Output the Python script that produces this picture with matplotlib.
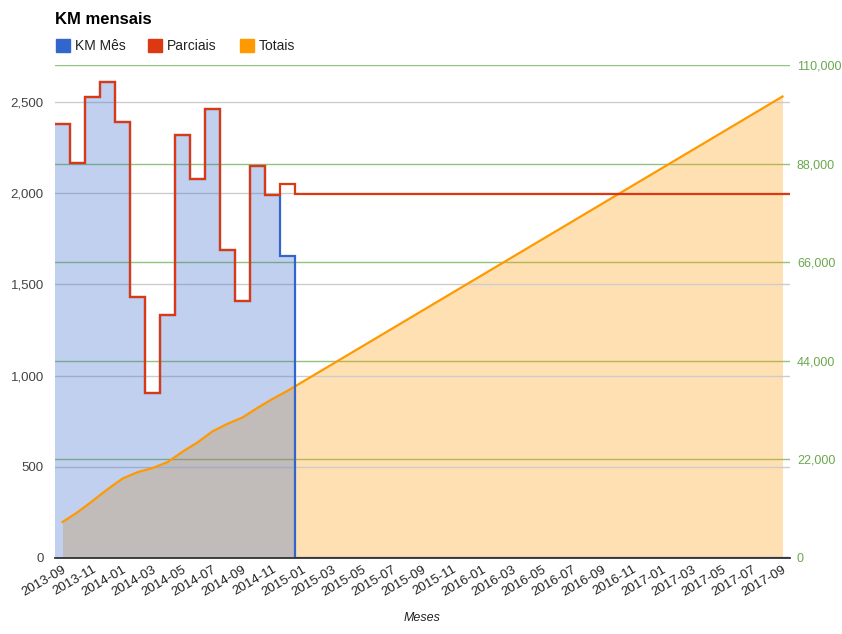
import numpy as np
import pandas as pd
import matplotlib
matplotlib.use("Agg")
import matplotlib.pyplot as plt
from matplotlib.patches import Rectangle
from matplotlib.ticker import FuncFormatter

plt.rcParams['font.family'] = ['Liberation Sans', 'DejaVu Sans']

# categories: one per month
meses = list(pd.date_range('2013-09', '2017-09', freq='MS').strftime('%Y-%m'))

km_mes = [2380, 2165, 2525, 2610, 2390, 1430, 905, 1332, 2318, 2078, 2460, 1688, 1408, 2148, 1988, 1655,
          0, 0, 0, 0, 0, 0, 0, 0, 0, 0, 0, 0, 0, 0, 0, 0, 0,
          0, 0, 0, 0, 0, 0, 0, 0, 0, 0, 0, 0, 0, 0, 0, 0]

parciais = [2380, 2165, 2525, 2610, 2390, 1430, 905, 1332, 2318, 2078, 2460, 1688, 1408, 2148, 1988, 2050,
            1993, 1993, 1993, 1993, 1993, 1993, 1993, 1993, 1993, 1993, 1993, 1993, 1993, 1993, 1993, 1993, 1993,
            1993, 1993, 1993, 1993, 1993, 1993, 1993, 1993, 1993, 1993, 1993, 1993, 1993, 1993, 1993, 1993]

totais = [8030, 10200, 12720, 15330, 17720, 19150, 20060, 21390, 23710, 25790, 28250, 29940,
          31350, 33500, 35490, 37300, 39290, 41280, 43270, 45260, 47250, 49240, 51230, 53220,
          55210, 57200, 59190, 61180, 63170, 65160, 67150, 69140, 71130, 73120, 75110, 77100,
          79090, 81080, 83070, 85060, 87050, 89040, 91030, 93020, 95010, 97000, 98990, 100980, 102970]

AZUL = '#3366cc'
VERMELHO = '#dc3912'
LARANJA = '#ff9900'
W, H = 842, 634

fig = plt.figure(figsize=(W / 100, H / 100), dpi=100)
ax = fig.add_axes([55 / W, 1 - 558 / H, 735 / W, 493 / H])
ax2 = ax.twinx()
ax.set_zorder(ax2.get_zorder() + 1)
ax.patch.set_visible(False)
ax2.patch.set_visible(True)
ax2.patch.set_facecolor('white')

x = np.arange(len(meses))
edges = np.arange(len(meses) + 1) - 0.5

# bottom layer: totals area + green grid
ax2.fill_between(x, totais, 0, color=LARANJA, alpha=0.3, lw=0)
ax2.set_ylim(0, 110000)
ax2.set_yticks(np.arange(0, 110001, 22000))
ax2.yaxis.grid(True, color='#93c47d', lw=1)
ax2.set_axisbelow(True)
ax2.yaxis.set_major_formatter(FuncFormatter(lambda v, p: f'{int(v):,}'))
ax2.tick_params(axis='y', length=0, pad=5, labelsize=9, labelcolor='#6aa84f')

# top layer
ax.stairs(km_mes, edges, fill=True, color=AZUL, alpha=0.3, lw=0, zorder=1)
ax.plot(x, totais, color=LARANJA, lw=1.6, transform=ax2.transData, zorder=2)
ax.stairs(km_mes, edges, baseline=None, color=AZUL, lw=1.6, zorder=3)
ax.stairs(parciais, edges, baseline=None, color=VERMELHO, lw=1.6, zorder=4)
ax.axhline(0, color='#333333', lw=1.3, zorder=5, clip_on=False)

ax.set_xlim(-0.5, len(meses) - 0.5)
ax.set_ylim(0, 2703)
ax.set_yticks(np.arange(0, 2501, 500))
ax.yaxis.grid(True, color='#cccccc', lw=1)
ax.set_axisbelow(True)
ax.yaxis.set_major_formatter(FuncFormatter(lambda v, p: f'{int(v):,}'))
ax.tick_params(axis='y', length=0, pad=8, labelsize=9.5, labelcolor='#444444')

ax.set_xticks(x[::2])
ax.set_xticklabels(meses[::2], rotation=30, ha='right', va='top', rotation_mode='anchor')
ax.tick_params(axis='x', length=0, pad=4, labelsize=9.5, labelcolor='#222222')
ax2.tick_params(axis='x', length=0)

for a in (ax, ax2):
    for s in a.spines.values():
        s.set_visible(False)

ax.set_xlabel('Meses', fontsize=9, style='italic', color='#222222', labelpad=10)

# title and legend
fig.text(55 / W, 1 - 20 / H, 'KM mensais', fontsize=12, fontweight='bold', va='center', ha='left')
itens = [('KM Mês', AZUL, 56, 75), ('Parciais', VERMELHO, 148, 167), ('Totais', LARANJA, 240, 259)]
for nome, cor, xq, xt in itens:
    fig.patches.append(Rectangle((xq / W, 1 - 52 / H), 14 / W, 13 / H, color=cor,
                                 transform=fig.transFigure, figure=fig))
    fig.text(xt / W, 1 - 45.5 / H, nome, fontsize=10, va='center', ha='left', color='#222222')

fig.savefig('out.png', dpi=100)
